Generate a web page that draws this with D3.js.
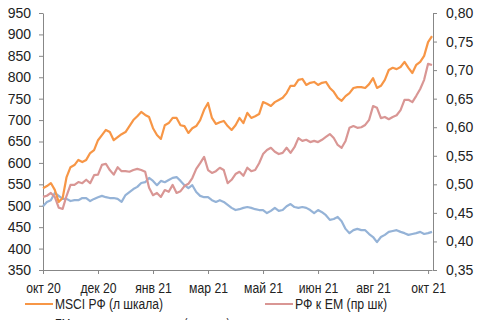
<!DOCTYPE html>
<html>
<head>
<meta charset="utf-8">
<script src="https://cdn.jsdelivr.net/npm/d3@7"></script>
<style>
  body { margin: 0; background: #fff; }
  svg { display: block; font-family: "Liberation Sans", Arial, sans-serif; }
  .axis path, .axis line { stroke: #878787; }
  .axis text { fill: #222; font-size: 14px; }
</style>
</head>
<body>
<svg></svg>
<script>
// chart size
var width = 479;
var height = 320;
var margin = {top: 13, right: 46, bottom: 50, left: 43};

// data, one point every ~4 px
var msciRu = [541,546,553,537,509,518,567,590,595,607,602,607,623,630,653,665,677,672,653,660,
  667,672,686,700,709,719,712,707,681,665,656,688,693,705,705,688,686,670,681,686,
  700,724,740,705,691,695,698,686,677,688,705,693,717,705,709,714,742,738,733,742,
  747,752,763,780,780,794,796,782,787,789,782,787,789,775,766,752,745,756,763,775,
  777,777,775,784,798,775,780,794,817,822,819,824,836,822,810,829,836,850,882,896];

var ruVsEm = [0.478,0.480,0.485,0.478,0.459,0.457,0.480,0.499,0.499,0.504,0.502,0.508,0.502,0.516,0.517,0.534,0.536,0.525,0.517,0.530,
  0.523,0.523,0.522,0.525,0.527,0.525,0.522,0.494,0.481,0.485,0.478,0.490,0.487,0.499,0.485,0.488,0.497,0.501,0.511,0.527,
  0.537,0.548,0.525,0.520,0.523,0.529,0.525,0.502,0.508,0.518,0.522,0.515,0.529,0.523,0.525,0.537,0.553,0.560,0.564,0.557,
  0.553,0.555,0.564,0.555,0.565,0.581,0.576,0.578,0.574,0.576,0.574,0.578,0.583,0.588,0.581,0.569,0.564,0.576,0.599,0.602,
  0.599,0.600,0.604,0.613,0.637,0.634,0.616,0.618,0.614,0.618,0.621,0.630,0.648,0.648,0.644,0.655,0.667,0.683,0.711,0.709];

var msciEm = [499,509,513,530,523,516,516,511,513,513,518,518,511,516,520,523,520,518,518,516,
  509,525,532,539,544,553,555,565,558,548,558,555,560,565,567,558,548,541,548,532,
  523,520,520,513,509,513,509,502,495,490,492,495,497,495,492,490,490,483,488,495,
  488,490,499,504,497,495,497,495,490,483,490,485,478,467,469,474,464,446,436,443,
  446,443,443,434,427,415,427,432,439,441,443,439,436,432,434,436,439,434,436,439];

var monthLabels = ['окт 20','дек 20','янв 21','мар 21','май 21','июн 21','авг 21','окт 21'];
var labelStep = 14; // points between month labels

var leftTicks = [350,400,450,500,550,600,650,700,750,800,850,900,950];
var rightTicks = [0.35,0.40,0.45,0.50,0.55,0.60,0.65,0.70,0.75,0.80];

var legendItems = [
  {name: 'MSCI РФ (л шкала)', color: '#F79646', len: 108},
  {name: 'РФ к ЕМ (пр шк)', color: '#D99694', len: 92},
  {name: 'ЕМ развивающиеся рынки (л шкала)', color: '#95B3D7', len: 175}
];

var svg = d3.select('svg')
  .attr('width', width)
  .attr('height', height);

var scaleX = d3.scaleLinear()
  .domain([0, msciRu.length - 1])
  .range([margin.left, width - margin.right - 1]);

var scaleL = d3.scaleLinear()
  .domain([350, 950])
  .range([height - margin.bottom, margin.top]);

var scaleR = d3.scaleLinear()
  .domain([0.35, 0.80])
  .range([height - margin.bottom, margin.top]);

var commaFmt = d => d3.format('.2f')(d).replace('.', ',');

// axes
svg.append('g')
  .attr('class', 'axis')
  .attr('transform', 'translate(' + margin.left + ',0)')
  .call(d3.axisLeft(scaleL).tickValues(leftTicks).tickSize(4).tickPadding(8).tickSizeOuter(0));

svg.append('g')
  .attr('class', 'axis')
  .attr('transform', 'translate(' + (width - margin.right) + ',0)')
  .call(d3.axisRight(scaleR).tickValues(rightTicks).tickFormat(commaFmt).tickSize(4).tickPadding(9).tickSizeOuter(0));

var xAxis = svg.append('g')
  .attr('class', 'axis')
  .attr('transform', 'translate(0,' + (height - margin.bottom) + ')')
  .call(d3.axisBottom(scaleX)
    .tickValues(monthLabels.map((d, i) => i * labelStep))
    .tickFormat((d, i) => monthLabels[i])
    .tickSize(4).tickPadding(9).tickSizeOuter(0));

// the month labels are narrow in the picture
xAxis.selectAll('text')
  .attr('transform', 'scale(0.87,1)');

// lines
var lineL = d3.line()
  .x((d, i) => scaleX(i))
  .y(d => scaleL(d));

var lineR = d3.line()
  .x((d, i) => scaleX(i))
  .y(d => scaleR(d));

svg.append('path')
  .datum(msciEm)
  .attr('d', lineL)
  .attr('fill', 'none')
  .attr('stroke', legendItems[2].color)
  .attr('stroke-width', 2.2)
  .attr('stroke-linejoin', 'round');

svg.append('path')
  .datum(ruVsEm)
  .attr('d', lineR)
  .attr('fill', 'none')
  .attr('stroke', legendItems[1].color)
  .attr('stroke-width', 2.2)
  .attr('stroke-linejoin', 'round');

svg.append('path')
  .datum(msciRu)
  .attr('d', lineL)
  .attr('fill', 'none')
  .attr('stroke', legendItems[0].color)
  .attr('stroke-width', 2.2)
  .attr('stroke-linejoin', 'round');

// legend
var legendPos = [[25, 304], [265, 304], [25, 324]];

var legend = svg.selectAll('.legend')
  .data(legendItems)
  .enter()
    .append('g')
      .attr('class', 'legend')
      .attr('transform', (d, i) => 'translate(' + legendPos[i][0] + ',' + legendPos[i][1] + ')');

legend.append('line')
  .attr('x1', 0)
  .attr('x2', 28)
  .attr('stroke', d => d.color)
  .attr('stroke-width', 2);

legend.append('text')
  .attr('x', 30)
  .attr('y', 5)
  .attr('font-size', 14)
  .attr('fill', '#222')
  .attr('textLength', d => d.len)
  .attr('lengthAdjust', 'spacingAndGlyphs')
  .text(d => d.name);
</script>
</body>
</html>
